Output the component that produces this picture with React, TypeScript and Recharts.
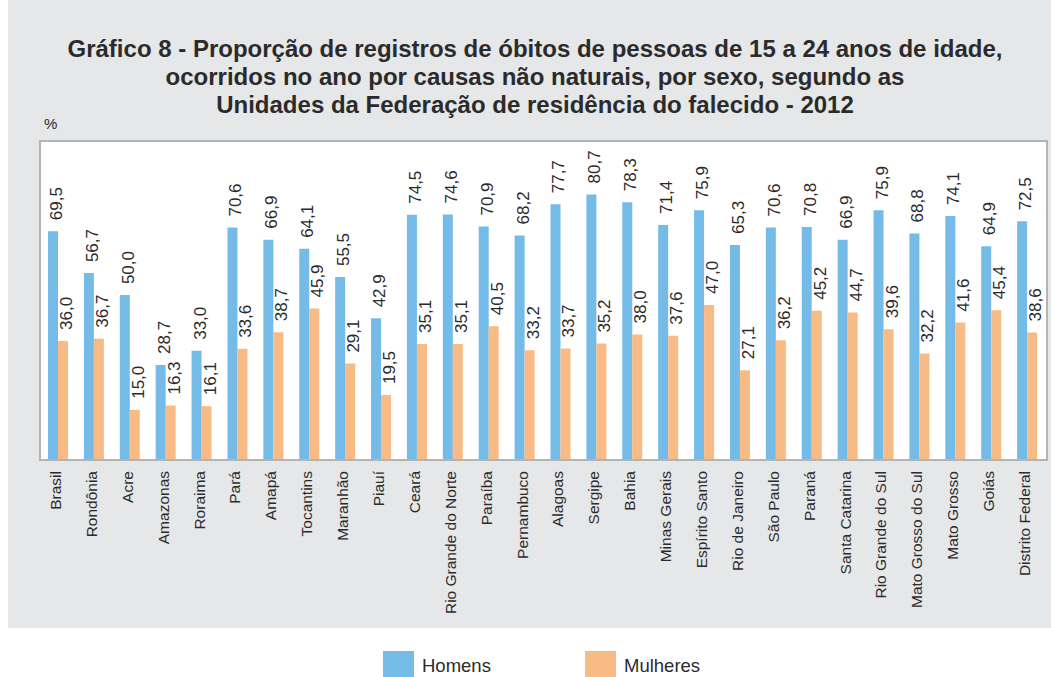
import React from "react";
import { BarChart, Bar, XAxis, YAxis, LabelList } from "recharts";

const categories = [
  "Brasil", "Rondônia", "Acre", "Amazonas", "Roraima", "Pará", "Amapá", "Tocantins",
  "Maranhão", "Piauí", "Ceará", "Rio Grande do Norte", "Paraíba", "Pernambuco", "Alagoas",
  "Sergipe", "Bahia", "Minas Gerais", "Espírito Santo", "Rio de Janeiro", "São Paulo",
  "Paraná", "Santa Catarina", "Rio Grande do Sul", "Mato Grosso do Sul", "Mato Grosso",
  "Goiás", "Distrito Federal",
];
const homens = [
  69.5, 56.7, 50.0, 28.7, 33.0, 70.6, 66.9, 64.1, 55.5, 42.9, 74.5, 74.6, 70.9, 68.2,
  77.7, 80.7, 78.3, 71.4, 75.9, 65.3, 70.6, 70.8, 66.9, 75.9, 68.8, 74.1, 64.9, 72.5,
];
const mulheres = [
  36.0, 36.7, 15.0, 16.3, 16.1, 33.6, 38.7, 45.9, 29.1, 19.5, 35.1, 35.1, 40.5, 33.2,
  33.7, 35.2, 38.0, 37.6, 47.0, 27.1, 36.2, 45.2, 44.7, 39.6, 32.2, 41.6, 45.4, 38.6,
];
const titleLines = [
  "Gráfico 8 - Proporção de registros de óbitos de pessoas de 15 a 24 anos de idade,",
  "ocorridos no ano por causas não naturais, por sexo, segundo as",
  "Unidades da Federação de residência do falecido - 2012",
];

const data = categories.map((c, i) => ({ name: c, homens: homens[i], mulheres: mulheres[i] }));

const BLUE = "#74bce7";
const ORANGE = "#f9bb86";
const TXT = "#2b2b2b";
const FONT = "'Liberation Sans', Arial, Helvetica, sans-serif";

const fmt = (v: number) => v.toFixed(1).replace(".", ",");

const ValueLabel = (props: any) => {
  const { x, y, width, value } = props;
  const cx = Number(x) + Number(width) / 2 + 9;
  const cy = Number(y) - 11;
  return (
    <text
      x={cx}
      y={cy}
      transform={`rotate(-90, ${cx}, ${cy})`}
      textAnchor="start"
      fontSize={17}
      fontFamily={FONT}
      fill={TXT}
    >
      {fmt(Number(value))}
    </text>
  );
};

const CatTick = (props: any) => {
  const { x, y, payload } = props;
  const tx = Number(x) + 3;
  const ty = Number(y) + 4;
  return (
    <text
      x={tx}
      y={ty}
      transform={`rotate(-90, ${tx}, ${ty})`}
      textAnchor="end"
      fontSize={15.5}
      fontFamily={FONT}
      fill={TXT}
    >
      {payload.value}
    </text>
  );
};

export default function App() {
  return (
    <div style={{ position: "absolute", left: 0, top: 0, width: 1051, height: 677, background: "#fff", fontFamily: FONT }}>
      <div style={{ position: "absolute", left: 8, top: 0, width: 1043, height: 628, background: "#e6e7e9" }} />
      {titleLines.map((t, i) => (
        <div
          key={i}
          style={{
            position: "absolute",
            left: 0,
            width: 1070,
            top: 35 + i * 28,
            lineHeight: "28px",
            textAlign: "center",
            fontWeight: "bold",
            fontSize: 24,
            color: TXT,
            whiteSpace: "nowrap",
          }}
        >
          {t}
        </div>
      ))}
      <div style={{ position: "absolute", left: 44, top: 115, fontSize: 15, color: TXT }}>%</div>
      <div
        style={{
          position: "absolute",
          left: 39,
          top: 140,
          width: 1005,
          height: 317,
          background: "#fff",
          border: "2px solid #b3b4b6",
        }}
      />
      <div style={{ position: "absolute", left: 0, top: 0 }}>
        <BarChart
          width={1051}
          height={677}
          data={data}
          margin={{ top: 141, right: 6, bottom: 68, left: 40 }}
          barGap={0}
        >
          <YAxis hide domain={[0, 97]} type="number" />
          <XAxis
            dataKey="name"
            interval={0}
            axisLine={false}
            tickLine={false}
            height={150}
            tick={<CatTick />}
          />
          <Bar dataKey="homens" fill={BLUE} barSize={10} isAnimationActive={false}>
            <LabelList dataKey="homens" content={<ValueLabel />} />
          </Bar>
          <Bar dataKey="mulheres" fill={ORANGE} barSize={10} isAnimationActive={false}>
            <LabelList dataKey="mulheres" content={<ValueLabel />} />
          </Bar>
        </BarChart>
      </div>
      <div style={{ position: "absolute", left: 383, top: 651, width: 31, height: 26, background: BLUE }} />
      <div style={{ position: "absolute", left: 422, top: 655, fontSize: 18.5, color: TXT }}>Homens</div>
      <div style={{ position: "absolute", left: 585, top: 651, width: 31, height: 26, background: ORANGE }} />
      <div style={{ position: "absolute", left: 624, top: 655, fontSize: 18.5, color: TXT }}>Mulheres</div>
    </div>
  );
}
